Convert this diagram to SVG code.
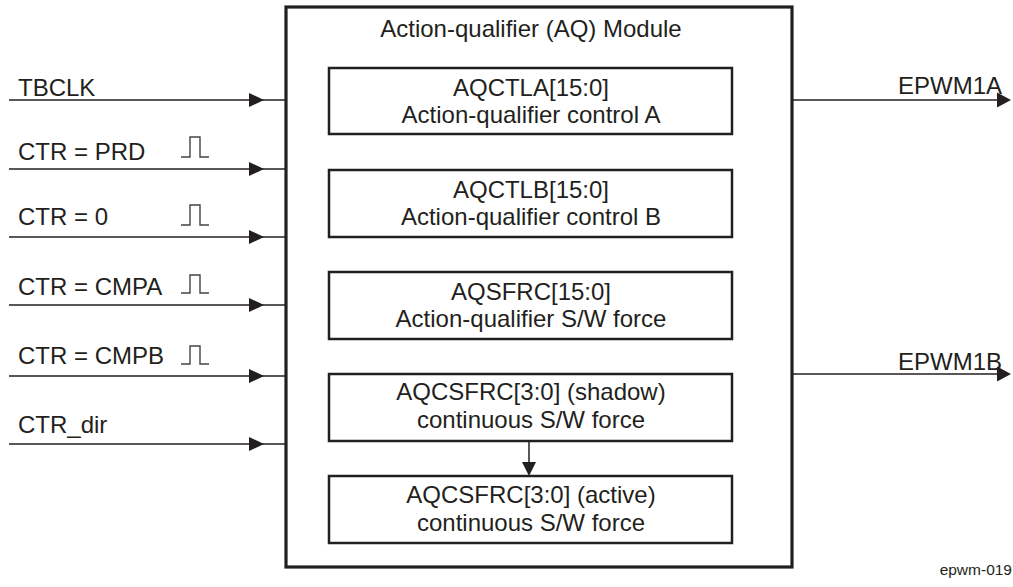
<svg xmlns="http://www.w3.org/2000/svg" width="1013" height="587" viewBox="0 0 1013 587">
<defs>
<style>
text{font-family:"Liberation Sans",Arial,sans-serif;font-size:24px;fill:#231f20}
.c{text-anchor:middle}
.e{text-anchor:end}
.box{fill:#fff;stroke:#231f20;stroke-width:2.5}
.outer{fill:#fff;stroke:#231f20;stroke-width:3.2}
.ln{fill:none;stroke:#231f20;stroke-width:1.5}
.pulse{fill:none;stroke:#444;stroke-width:1.4}
.ah{fill:#231f20}
</style>
</defs>
<rect width="1013" height="587" fill="#fff"/>

<g id="module">
<rect class="outer" x="286" y="7" width="506" height="560"/>
<text class="c" x="531" y="37">Action-qualifier (AQ) Module</text>
</g>

<g id="connectors">
<line class="ln" x1="9" y1="100" x2="286" y2="100"/>
<path class="ah" d="M249,93 L264,100 L249,107 Z"/>
<line class="ln" x1="9" y1="169" x2="286" y2="169"/>
<path class="ah" d="M249,162 L264,169 L249,176 Z"/>
<line class="ln" x1="9" y1="237" x2="286" y2="237"/>
<path class="ah" d="M249,230 L264,237 L249,244 Z"/>
<line class="ln" x1="9" y1="305" x2="286" y2="305"/>
<path class="ah" d="M249,298 L264,305 L249,312 Z"/>
<line class="ln" x1="9" y1="376" x2="286" y2="376"/>
<path class="ah" d="M249,369 L264,376 L249,383 Z"/>
<line class="ln" x1="9" y1="444" x2="286" y2="444"/>
<path class="ah" d="M249,437 L264,444 L249,451 Z"/>
<line class="ln" x1="792" y1="100" x2="998" y2="100"/>
<path class="ah" d="M997,92.5 L1011,100 L997,107.5 Z"/>
<line class="ln" x1="792" y1="374" x2="998" y2="374"/>
<path class="ah" d="M997,366.5 L1011,374 L997,381.5 Z"/>
<line class="ln" x1="529" y1="441" x2="529" y2="463"/>
<path class="ah" d="M522,462 L529,476 L536,462 Z"/>
</g>

<g id="inputs">
<text x="18" y="96">TBCLK</text>
<text x="18" y="160">CTR = PRD</text>
<path class="pulse" d="M181,157 H190 V137 H200 V157 H209"/>
<text x="18" y="225">CTR = 0</text>
<path class="pulse" d="M181,225 H190 V205 H200 V225 H209"/>
<text x="18" y="295">CTR = CMPA</text>
<path class="pulse" d="M181,293 H190 V275 H200 V293 H209"/>
<text x="18" y="364">CTR = CMPB</text>
<path class="pulse" d="M181,364 H190 V346 H200 V364 H209"/>
<text x="18" y="433">CTR_dir</text>
</g>

<g id="outputs">
<text class="e" x="1002" y="94">EPWM1A</text>
<text class="e" x="1002" y="370">EPWM1B</text>
</g>

<g id="aqctla">
<rect class="box" x="329" y="68" width="403" height="66"/>
<text class="c" x="531" y="96">AQCTLA[15:0]</text>
<text class="c" x="531" y="123">Action-qualifier control A</text>
</g>
<g id="aqctlb">
<rect class="box" x="329" y="170" width="403" height="67"/>
<text class="c" x="531" y="198">AQCTLB[15:0]</text>
<text class="c" x="531" y="225">Action-qualifier control B</text>
</g>
<g id="aqsfrc">
<rect class="box" x="329" y="272" width="403" height="67"/>
<text class="c" x="531" y="300">AQSFRC[15:0]</text>
<text class="c" x="531" y="327">Action-qualifier S/W force</text>
</g>
<g id="aqcsfrc-shadow">
<rect class="box" x="329" y="374" width="403" height="67"/>
<text class="c" x="531" y="400">AQCSFRC[3:0] (shadow)</text>
<text class="c" x="531" y="428">continuous S/W force</text>
</g>
<g id="aqcsfrc-active">
<rect class="box" x="329" y="476" width="403" height="67"/>
<text class="c" x="531" y="503">AQCSFRC[3:0] (active)</text>
<text class="c" x="531" y="531">continuous S/W force</text>
</g>

<text class="e" x="1012" y="575" style="font-size:15.5px">epwm-019</text>
</svg>
